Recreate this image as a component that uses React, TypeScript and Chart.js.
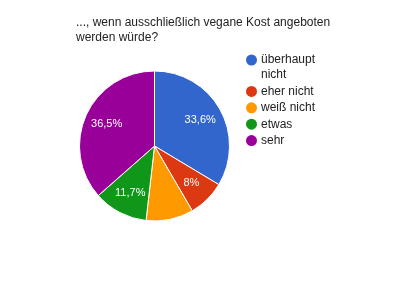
import React, { useEffect, useRef } from "react";
import { Chart, registerables } from "chart.js";

Chart.register(...registerables);

const categories = [["überhaupt", "nicht"], ["eher nicht"], ["weiß nicht"], ["etwas"], ["sehr"]];
const values = [33.6, 8, 10.2, 11.7, 36.5];
const sliceLabels = ["33,6%", "8%", "", "11,7%", "36,5%"];
const colors = ["#3366cc", "#dc3912", "#ff9900", "#109618", "#990099"];
const titleLines = ["..., wenn ausschließlich vegane Kost angeboten", "werden würde?"];

const FONT = "Arial, 'Liberation Sans', sans-serif";

const overlay = {
  id: "overlay",
  afterDraw(chart: any) {
    const ctx = chart.ctx;
    ctx.save();
    // title
    ctx.fillStyle = "#222";
    ctx.font = `12px ${FONT}`;
    ctx.textAlign = "left";
    ctx.textBaseline = "middle";
    titleLines.forEach((t, i) => ctx.fillText(t, 76, 23 + i * 14.5));
    // slice labels
    const meta = chart.getDatasetMeta(0);
    ctx.font = `11px ${FONT}`;
    ctx.fillStyle = "#fff";
    ctx.textAlign = "center";
    meta.data.forEach((arc: any, i: number) => {
      const txt = sliceLabels[i];
      if (!txt) return;
      const p = arc.getProps(["x", "y", "startAngle", "endAngle", "outerRadius"], true);
      const mid = (p.startAngle + p.endAngle) / 2;
      const r = p.outerRadius * 0.7;
      ctx.fillText(txt, p.x + Math.cos(mid) * r, p.y + Math.sin(mid) * r);
    });
    // legend
    ctx.font = `12px ${FONT}`;
    ctx.textAlign = "left";
    let y = 60;
    categories.forEach((lines, i) => {
      ctx.fillStyle = colors[i];
      ctx.beginPath();
      ctx.arc(251.5, y, 5.5, 0, Math.PI * 2);
      ctx.fill();
      ctx.fillStyle = "#222";
      lines.forEach((l, j) => ctx.fillText(l, 261, y + j * 15));
      y += 16.4 + (lines.length - 1) * 15;
    });
    ctx.restore();
  },
};

export default function App() {
  const ref = useRef<HTMLCanvasElement>(null);
  useEffect(() => {
    const chart = new Chart(ref.current!, {
      type: "pie",
      data: {
        labels: categories.map((c) => c.join(" ")),
        datasets: [
          {
            data: values,
            backgroundColor: colors,
            borderColor: "#fff",
            borderWidth: 1,
          },
        ],
      },
      options: {
        responsive: false,
        animation: false,
        layout: { padding: { left: 79, top: 70.5, right: 170, bottom: 68.5 } },
        plugins: {
          legend: { display: false },
          tooltip: { enabled: false },
          title: { display: false },
        },
      },
      plugins: [overlay],
    });
    return () => chart.destroy();
  }, []);
  return (
    <div style={{ position: "fixed", left: 0, top: 0, width: 400, height: 290, background: "#fff" }}>
      <canvas ref={ref} width={400} height={290} style={{ width: 400, height: 290 }} />
    </div>
  );
}
